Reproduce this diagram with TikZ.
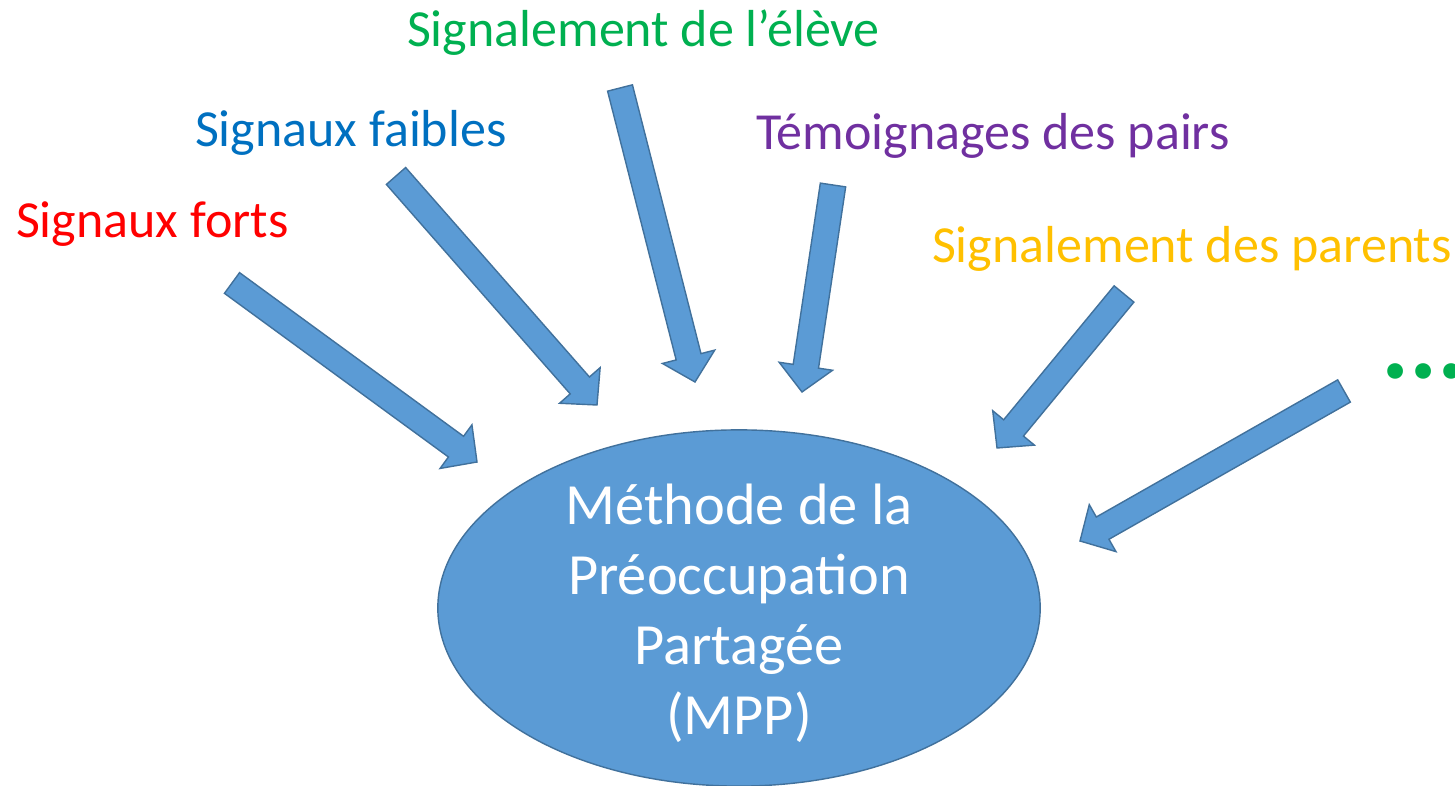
\documentclass[tikz,border=0pt]{standalone}
\usepackage{fontspec}
\setmainfont{Carlito}
\usepackage{tikz}
\usetikzlibrary{calc, shapes.geometric}

\definecolor{arrowfill}{HTML}{5B9BD5}
\definecolor{arrowline}{HTML}{41719C}
\definecolor{sigred}{HTML}{FF0000}
\definecolor{sigblue}{HTML}{0070C0}
\definecolor{siggreen}{HTML}{00B050}
\definecolor{sigpurple}{HTML}{7030A0}
\definecolor{sigorange}{HTML}{FFC000}

% block arrow from tail coordinate #1 to tip coordinate #2
\newcommand{\blockarrow}[2]{%
	\coordinate (neck) at ($(#2)!2.6mm!(#1)$);
	\filldraw[fill=arrowfill, draw=arrowline, line width=0.4pt, line join=miter]
		($(#1)!1.28mm!90:(#2)$) -- ($(neck)!1.28mm!90:(#2)$) -- ($(neck)!2.7mm!90:(#2)$) -- (#2)
		-- ($(neck)!2.7mm!-90:(#2)$) -- ($(neck)!1.28mm!-90:(#2)$) -- ($(#1)!1.28mm!-90:(#2)$) -- cycle;}

\begin{document}
\begin{tikzpicture}[x=0.01cm, y=-0.01cm, every node/.style={inner sep=0pt, outer sep=0pt}, label/.style={anchor=base west, font=\fontsize{14.8}{17}\selectfont}]
		\useasboundingbox (0, 0) rectangle (1455, 786);

		\node[ellipse, fill=arrowfill, draw=arrowline, line width=0.4pt, minimum width=6.02cm, minimum height=3.56cm]	(mpp) at (739, 608) {};
		\node[text=white, align=center, font=\fontsize{16.6}{19.9}\selectfont]	(mpptext) at (739, 613)
			{Méthode de la\\Préoccupation\\Partagée\\(MPP)};

		\node[label, text=sigred]		(forts) at (16, 238) {Signaux forts};
		\node[label, text=sigblue]		(faibles) at (195, 147) {Signaux faibles};
		\node[label, text=siggreen]		(eleve) at (407, 47) {Signalement de l’élève};
		\node[label, text=sigpurple]	(pairs) at (756, 150) {Témoignages des pairs};
		\node[label, text=sigorange]	(parents) at (932, 263) {Signalement des parents};
		\node[anchor=base west, text=siggreen, font=\fontsize{30}{34}\bfseries]	(etc) at (1381, 379) {...};

		\coordinate (t1) at (232, 283);		\coordinate (h1) at (477, 462);
		\coordinate (t2) at (396, 176);		\coordinate (h2) at (597, 405);
		\coordinate (t3) at (620, 88);		\coordinate (h3) at (695, 382);
		\coordinate (t4) at (833, 185);		\coordinate (h4) at (802, 392);
		\coordinate (t5) at (1124, 294);	\coordinate (h5) at (997, 448);
		\coordinate (t6) at (1344, 391);	\coordinate (h6) at (1080, 541);

		\blockarrow{t1}{h1}
		\blockarrow{t2}{h2}
		\blockarrow{t3}{h3}
		\blockarrow{t4}{h4}
		\blockarrow{t5}{h5}
		\blockarrow{t6}{h6}
	\end{tikzpicture}
\end{document}
